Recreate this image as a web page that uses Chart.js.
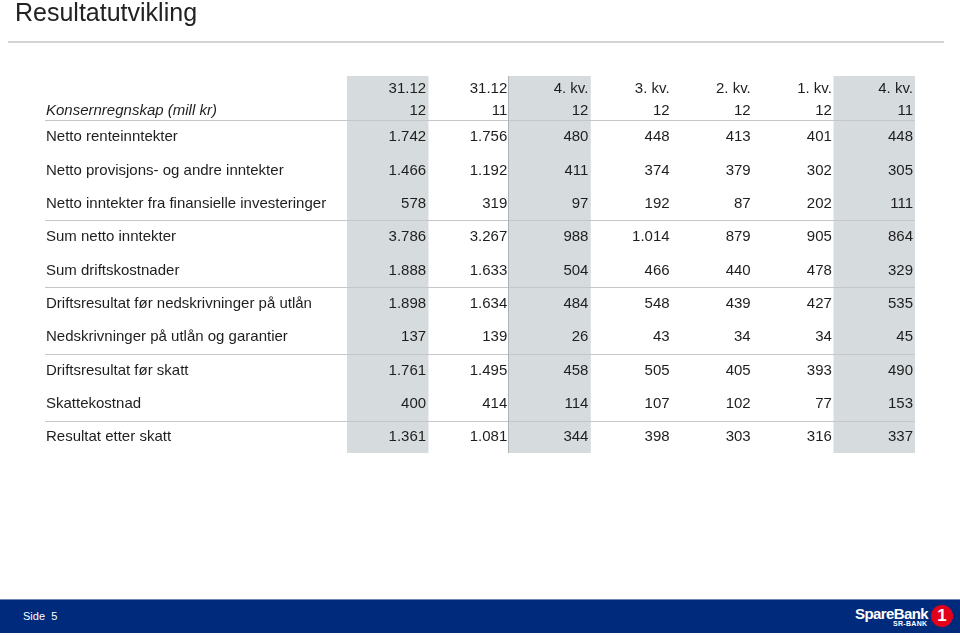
<!DOCTYPE html>
<html>
<head>
<meta charset="utf-8">
<script src="https://cdn.jsdelivr.net/npm/chart.js@4"></script>
<style>
  html, body { margin: 0; padding: 0; background: #fff; }
  #page { position: relative; width: 960px; height: 635px; overflow: hidden; font-family: "Liberation Sans", Arial, sans-serif; }
  #chart { position: absolute; left: 0; top: 0; }
  .title { position: absolute; left: 15px; top: -2px; font-size: 25px; color: #222; }
  .rule { position: absolute; left: 8px; top: 41px; width: 936px; height: 2px; background: #d4d4d4; }
  .footer { position: absolute; left: 0; top: 599px; width: 960px; height: 33px; background: #002a7c; border-top: 1px solid #6f86b8; }
  .side { position: absolute; left: 23px; top: 10px; font-size: 11px; color: #fff; }
  .logo1 { position: absolute; left: 855px; top: 5px; font-size: 15px; font-weight: bold; color: #fff; letter-spacing: -0.6px; }
  .logo2 { position: absolute; left: 893px; top: 20px; font-size: 7px; font-weight: bold; color: #fff; letter-spacing: 0.3px; }
  .ball { position: absolute; left: 931px; top: 5px; width: 22px; height: 22px; border-radius: 50%; background: #e2001a; color: #fff; font-weight: bold; font-size: 17px; text-align: center; line-height: 22px; }
</style>
</head>
<body>
<div id="page">
  <canvas id="chart" width="960" height="635"></canvas>
  <div class="title">Resultatutvikling</div>
  <div class="rule"></div>
  <div class="footer">
    <div class="side">Side&nbsp; 5</div>
    <div class="logo1">SpareBank</div>
    <div class="logo2">SR-BANK</div>
    <div class="ball">1</div>
  </div>
</div>
<script>
const periodTop = ['31.12', '31.12', '4. kv.', '3. kv.', '2. kv.', '1. kv.', '4. kv.']
const periodBottom = ['12', '11', '12', '12', '12', '12', '11']
const headerLabel = 'Konsernregnskap (mill kr)'

const rows = [
  'Netto renteinntekter',
  'Netto provisjons- og andre inntekter',
  'Netto inntekter fra finansielle investeringer',
  'Sum netto inntekter',
  'Sum driftskostnader',
  'Driftsresultat før nedskrivninger på utlån',
  'Nedskrivninger på utlån og garantier',
  'Driftsresultat før skatt',
  'Skattekostnad',
  'Resultat etter skatt'
]

const ytd12 = [1742, 1466, 578, 3786, 1888, 1898, 137, 1761, 400, 1361]
const ytd11 = [1756, 1192, 319, 3267, 1633, 1634, 139, 1495, 414, 1081]
const q4y12 = [480, 411, 97, 988, 504, 484, 26, 458, 114, 344]
const q3y12 = [448, 374, 192, 1014, 466, 548, 43, 505, 107, 398]
const q2y12 = [413, 379, 87, 879, 440, 439, 34, 405, 102, 303]
const q1y12 = [401, 302, 202, 905, 478, 427, 34, 393, 77, 316]
const q4y11 = [448, 305, 111, 864, 329, 535, 45, 490, 153, 337]

// rows after which a rule is drawn
const ruleAfter = [2, 4, 6, 8]
// shaded columns
const shaded = [0, 2, 6]

const columns = [ytd12, ytd11, q4y12, q3y12, q2y12, q1y12, q4y11]

// row units on the y scale
const yMax = 11.3
const firstRow = 1.83
const head1 = 0.39
const head2 = 1.05
const headRule = 1.32

function fmt(v) {
  return String(v).replace(/\B(?=(\d{3})+(?!\d))/g, '.')
}

const tablePlugin = {
  id: 'tableText',
  afterDatasetsDraw(chart) {
    const ctx = chart.ctx
    const x = chart.scales.x
    const y = chart.scales.y
    const area = chart.chartArea
    const colW = (area.right - area.left) / periodTop.length
    const labelX = area.left - 301
    const lineLeft = area.left - 302

    ctx.save()
    // rules
    ctx.strokeStyle = '#c4c6c8'
    ctx.lineWidth = 1
    const ruleRows = [headRule].concat(ruleAfter.map(r => firstRow + r + 0.5))
    ruleRows.forEach(r => {
      const py = Math.round(y.getPixelForValue(r)) + 0.5
      ctx.beginPath()
      ctx.moveTo(lineLeft, py)
      ctx.lineTo(area.right, py)
      ctx.stroke()
    })
    // vertical divider before the quarter columns
    ctx.strokeStyle = '#aeb3b6'
    const vx = Math.round(x.getPixelForValue(2) - colW / 2) - 0.5
    ctx.beginPath()
    ctx.moveTo(vx, area.top)
    ctx.lineTo(vx, area.bottom)
    ctx.stroke()

    ctx.fillStyle = '#1e1e1e'
    ctx.textBaseline = 'middle'
    ctx.font = '15px "Liberation Sans", Arial, sans-serif'

    // headers
    ctx.textAlign = 'right'
    periodTop.forEach((t, i) => {
      const px = x.getPixelForValue(i) + colW / 2 - 2
      ctx.fillText(t, px, y.getPixelForValue(head1))
      ctx.fillText(periodBottom[i], px, y.getPixelForValue(head2))
    })
    ctx.textAlign = 'left'
    ctx.font = 'italic 15px "Liberation Sans", Arial, sans-serif'
    ctx.fillText(headerLabel, labelX, y.getPixelForValue(head2))

    // body
    ctx.font = '15px "Liberation Sans", Arial, sans-serif'
    rows.forEach((label, r) => {
      const py = y.getPixelForValue(firstRow + r)
      ctx.textAlign = 'left'
      ctx.fillText(label, labelX, py)
      ctx.textAlign = 'right'
      columns.forEach((col, i) => {
        ctx.fillText(fmt(col[r]), x.getPixelForValue(i) + colW / 2 - 2, py)
      })
    })
    ctx.restore()
  }
}

new Chart(document.getElementById('chart'), {
  type: 'bar',
  data: {
    labels: periodTop.map((t, i) => t + ' ' + periodBottom[i]),
    datasets: [{
      data: periodTop.map((t, i) => shaded.includes(i) ? [0, yMax] : null),
      backgroundColor: '#d6dbde',
      borderWidth: 0,
      barPercentage: 1,
      categoryPercentage: 1
    }]
  },
  options: {
    responsive: false,
    animation: false,
    layout: { padding: { left: 347, right: 45, top: 76, bottom: 182 } },
    plugins: { legend: { display: false }, tooltip: { enabled: false } },
    scales: {
      x: { display: false },
      y: { display: false, reverse: true, min: 0, max: yMax }
    }
  },
  plugins: [tablePlugin]
})
</script>
</body>
</html>
